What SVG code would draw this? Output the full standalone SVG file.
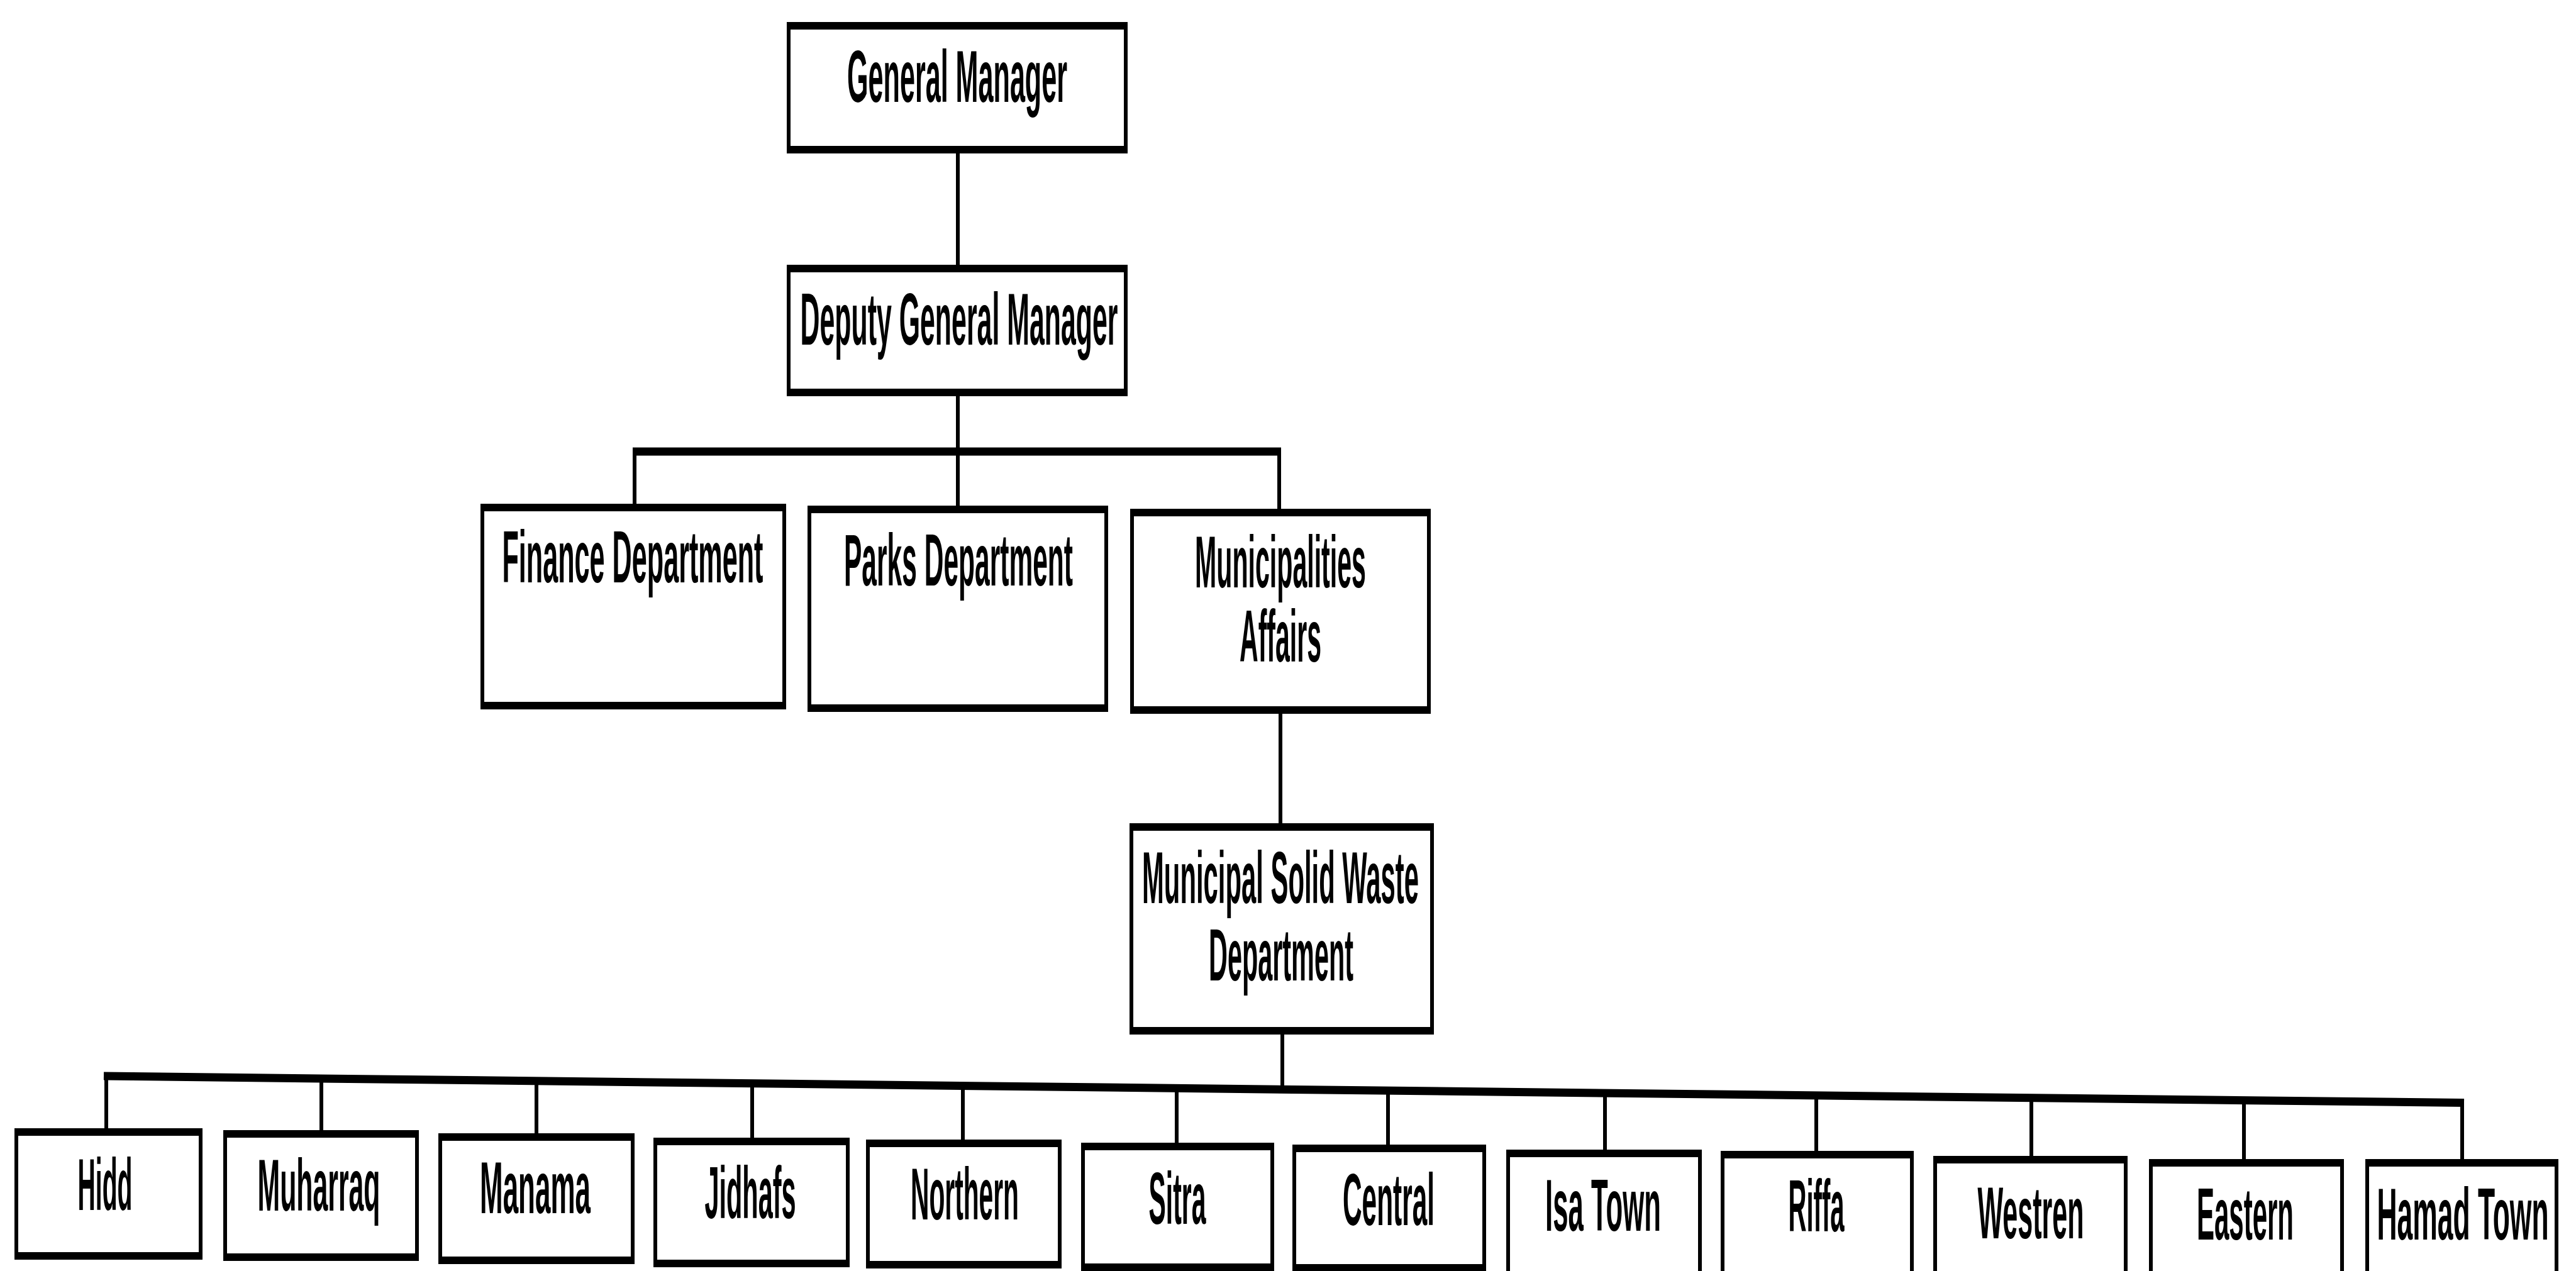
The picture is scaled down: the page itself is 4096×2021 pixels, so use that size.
<svg xmlns="http://www.w3.org/2000/svg" width="4096" height="2021" viewBox="0 0 4096 2021">
  <style>
    .box { fill: #fff; stroke: #000; stroke-width: 6; }
    .edge { fill: none; stroke: #000; stroke-width: 12; }
    .conn { fill: none; stroke: #000; stroke-width: 6; }
    .bus { fill: none; stroke: #000; stroke-width: 13; }
    .lbl { font-family: "Liberation Sans", Arial, sans-serif; font-weight: bold; font-size: 116px; text-anchor: middle; fill: #000; }
  </style>
  <rect width="4096" height="2021" fill="#fff"/>

  <!-- connectors -->
  <g id="connectors">
    <line class="conn" x1="1523" y1="238" x2="1523" y2="427"/>
    <line class="conn" x1="1523" y1="624" x2="1523" y2="718"/>
    <line class="bus" x1="1006" y1="718" x2="2037" y2="718"/>
    <line class="conn" x1="1009" y1="718" x2="1009" y2="807"/>
    <line class="conn" x1="1523" y1="718" x2="1523" y2="810"/>
    <line class="conn" x1="2034" y1="718" x2="2034" y2="815"/>
    <line class="conn" x1="2036" y1="1129" x2="2036" y2="1315"/>
    <line class="conn" x1="2039" y1="1638" x2="2039" y2="1732"/>
    <line class="bus" x1="165" y1="1711" x2="3918" y2="1753.5"/>
    <line class="conn" x1="169" y1="1711" x2="169" y2="1800"/>
    <line class="conn" x1="511" y1="1715" x2="511" y2="1803"/>
    <line class="conn" x1="853" y1="1719" x2="853" y2="1808"/>
    <line class="conn" x1="1196" y1="1723" x2="1196" y2="1815"/>
    <line class="conn" x1="1531" y1="1726" x2="1531" y2="1818"/>
    <line class="conn" x1="1871" y1="1730" x2="1871" y2="1823"/>
    <line class="conn" x1="2207" y1="1734" x2="2207" y2="1826"/>
    <line class="conn" x1="2552" y1="1738" x2="2552" y2="1834"/>
    <line class="conn" x1="2888" y1="1742" x2="2888" y2="1836"/>
    <line class="conn" x1="3230" y1="1746" x2="3230" y2="1844"/>
    <line class="conn" x1="3568" y1="1750" x2="3568" y2="1849"/>
    <line class="conn" x1="3915" y1="1753" x2="3915" y2="1849"/>
  </g>

  <!-- top of the chart -->
  <g id="general-manager">
    <rect class="box" x="1254" y="41" width="536" height="197"/>
    <path class="edge" d="M1251,41H1793M1251,238H1793"/>
    <text class="lbl" x="1522" y="162" textLength="350" lengthAdjust="spacingAndGlyphs">General Manager</text>
  </g>
  <g id="deputy-general-manager">
    <rect class="box" x="1254" y="427" width="536" height="197"/>
    <path class="edge" d="M1251,427H1793M1251,624H1793"/>
    <text class="lbl" x="1525" y="548" textLength="505" lengthAdjust="spacingAndGlyphs">Deputy General Manager</text>
  </g>

  <!-- departments -->
  <g id="finance-department">
    <rect class="box" x="767" y="807" width="480" height="315"/>
    <path class="edge" d="M764,807H1250M764,1122H1250"/>
    <text class="lbl" x="1006" y="926" textLength="415" lengthAdjust="spacingAndGlyphs">Finance Department</text>
  </g>
  <g id="parks-department">
    <rect class="box" x="1287" y="810" width="472" height="316"/>
    <path class="edge" d="M1284,810H1762M1284,1126H1762"/>
    <text class="lbl" x="1524" y="931" textLength="364" lengthAdjust="spacingAndGlyphs">Parks Department</text>
  </g>
  <g id="municipalities-affairs">
    <rect class="box" x="1800" y="815" width="472" height="314"/>
    <path class="edge" d="M1797,815H2275M1797,1129H2275"/>
    <text class="lbl" x="2036" y="934" textLength="272" lengthAdjust="spacingAndGlyphs">Municipalities</text>
    <text class="lbl" x="2036" y="1052" textLength="130" lengthAdjust="spacingAndGlyphs">Affairs</text>
  </g>
  <g id="municipal-solid-waste-department">
    <rect class="box" x="1799" y="1315" width="478" height="324"/>
    <path class="edge" d="M1796,1315H2280M1796,1639H2280"/>
    <text class="lbl" x="2036" y="1436" textLength="440" lengthAdjust="spacingAndGlyphs">Municipal Solid Waste</text>
    <text class="lbl" x="2037" y="1559" textLength="230" lengthAdjust="spacingAndGlyphs">Department</text>
  </g>

  <!-- municipal areas -->
  <g id="hidd">
    <rect class="box" x="26" y="1800" width="293" height="197"/>
    <path class="edge" d="M23,1800H322M23,1997H322"/>
    <text class="lbl" x="167" y="1924" textLength="87" lengthAdjust="spacingAndGlyphs">Hidd</text>
  </g>
  <g id="muharraq">
    <rect class="box" x="358" y="1803" width="305" height="196"/>
    <path class="edge" d="M355,1803H666M355,1999H666"/>
    <text class="lbl" x="507" y="1925" textLength="195" lengthAdjust="spacingAndGlyphs">Muharraq</text>
  </g>
  <g id="manama">
    <rect class="box" x="700" y="1808" width="306" height="196"/>
    <path class="edge" d="M697,1808H1009M697,2004H1009"/>
    <text class="lbl" x="851" y="1929" textLength="176" lengthAdjust="spacingAndGlyphs">Manama</text>
  </g>
  <g id="jidhafs">
    <rect class="box" x="1042" y="1815" width="306" height="194"/>
    <path class="edge" d="M1039,1815H1351M1039,2009H1351"/>
    <text class="lbl" x="1193" y="1937" textLength="145" lengthAdjust="spacingAndGlyphs">Jidhafs</text>
  </g>
  <g id="northern">
    <rect class="box" x="1380" y="1818" width="305" height="193"/>
    <path class="edge" d="M1377,1818H1688M1377,2011H1688"/>
    <text class="lbl" x="1534" y="1939" textLength="172" lengthAdjust="spacingAndGlyphs">Northern</text>
  </g>
  <g id="sitra">
    <rect class="box" x="1722" y="1823" width="301" height="192"/>
    <path class="edge" d="M1719,1823H2026M1719,2015H2026"/>
    <text class="lbl" x="1872" y="1946" textLength="91" lengthAdjust="spacingAndGlyphs">Sitra</text>
  </g>
  <g id="central">
    <rect class="box" x="2058" y="1826" width="302" height="190"/>
    <path class="edge" d="M2055,1826H2363M2055,2016H2363"/>
    <text class="lbl" x="2208" y="1948" textLength="146" lengthAdjust="spacingAndGlyphs">Central</text>
  </g>
  <g id="isa-town">
    <rect class="box" x="2398" y="1834" width="305" height="195"/>
    <path class="edge" d="M2395,1834H2706M2395,2029H2706"/>
    <text class="lbl" x="2549" y="1957" textLength="184" lengthAdjust="spacingAndGlyphs">Isa Town</text>
  </g>
  <g id="riffa">
    <rect class="box" x="2739" y="1836" width="301" height="195"/>
    <path class="edge" d="M2736,1836H3043M2736,2031H3043"/>
    <text class="lbl" x="2888" y="1958" textLength="89" lengthAdjust="spacingAndGlyphs">Riffa</text>
  </g>
  <g id="westren">
    <rect class="box" x="3077" y="1844" width="303" height="195"/>
    <path class="edge" d="M3074,1844H3383M3074,2039H3383"/>
    <text class="lbl" x="3229" y="1969" textLength="169" lengthAdjust="spacingAndGlyphs">Westren</text>
  </g>
  <g id="eastern">
    <rect class="box" x="3420" y="1849" width="304" height="195"/>
    <path class="edge" d="M3417,1849H3727M3417,2044H3727"/>
    <text class="lbl" x="3570" y="1971" textLength="154" lengthAdjust="spacingAndGlyphs">Eastern</text>
  </g>
  <g id="hamad-town">
    <rect class="box" x="3764" y="1849" width="301" height="195"/>
    <path class="edge" d="M3761,1849H4068M3761,2044H4068"/>
    <text class="lbl" x="3916" y="1971" textLength="273" lengthAdjust="spacingAndGlyphs">Hamad Town</text>
  </g>
</svg>
